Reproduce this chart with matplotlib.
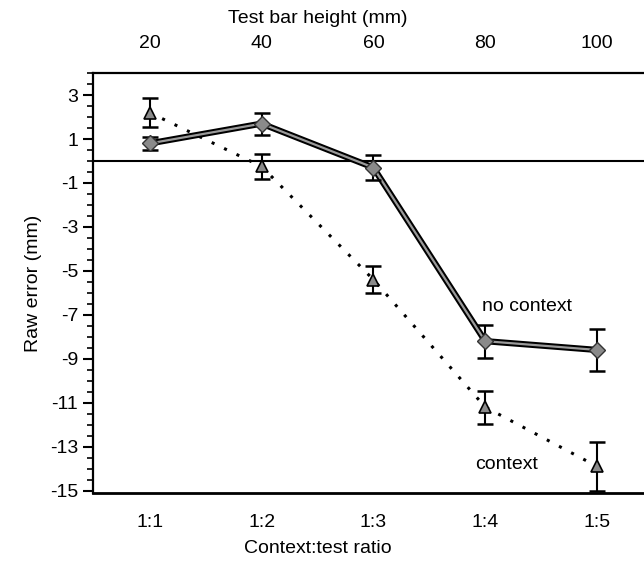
import matplotlib.pyplot as plt
import numpy as np
from matplotlib.ticker import MultipleLocator

plt.rcParams['font.family'] = ['Liberation Sans', 'DejaVu Sans']
plt.rcParams['axes.unicode_minus'] = False

# data
ratios = ['1:1', '1:2', '1:3', '1:4', '1:5']
bar_heights = ['20', '40', '60', '80', '100']
no_context = [0.8, 1.7, -0.3, -8.2, -8.6]
no_context_err = [0.3, 0.5, 0.55, 0.75, 0.95]
context = [2.2, -0.25, -5.4, -11.2, -13.9]
context_err = [0.65, 0.55, 0.6, 0.75, 1.1]

x = np.arange(1, len(ratios) + 1)
FS = 14

fig = plt.figure(figsize=(6.44, 5.71), dpi=100)
ax = fig.add_axes([0.144, 0.137, 0.856, 0.735])

# zero line
ax.axhline(0, color='black', lw=1.5, zorder=1)

# context: dotted line with triangles
ax.errorbar(x, context, yerr=context_err, fmt='none', ecolor='black',
            elinewidth=1.5, capsize=6, capthick=1.8, zorder=3)
ax.plot(x, context, linestyle=(0, (1, 3.5)), color='black', lw=2.2, zorder=2)
ax.plot(x, context, linestyle='none', marker='^', markersize=9,
        markerfacecolor='#8a8a8a', markeredgecolor='black', markeredgewidth=1.2, zorder=4)

# no context: thick double line with diamonds
ax.errorbar(x, no_context, yerr=no_context_err, fmt='none', ecolor='black',
            elinewidth=1.5, capsize=6, capthick=1.8, zorder=3)
ax.plot(x, no_context, color='black', lw=4.5, zorder=2, solid_capstyle='round')
ax.plot(x, no_context, color='#9a9a9a', lw=1.6, zorder=2)
ax.plot(x, no_context, linestyle='none', marker='D', markersize=8,
        markerfacecolor='#8a8a8a', markeredgecolor='#333333', markeredgewidth=1.0, zorder=4)

ax.text(3.97, -6.6, 'no context', fontsize=FS, va='center', ha='left')
ax.text(3.91, -13.8, 'context', fontsize=FS, va='center', ha='left')

ax.set_xlim(0.49, 5.42)
ax.set_ylim(-15.1, 4.0)

ax.set_yticks(np.arange(3, -16, -2))
ax.yaxis.set_minor_locator(MultipleLocator(0.5))
ax.tick_params(axis='y', which='major', length=7, width=1.5, labelsize=FS, direction='out')
ax.tick_params(axis='y', which='minor', length=4, width=1.2, direction='out')

ax.set_xticks(x)
ax.set_xticklabels(ratios)
ax.tick_params(axis='x', length=0, labelsize=FS, pad=15)
ax.set_ylabel('Raw error (mm)', fontsize=FS, labelpad=6)

top = ax.secondary_xaxis('top')
top.set_xticks(x)
top.set_xticklabels(bar_heights)
top.tick_params(length=0, labelsize=FS, pad=15)
top.spines['top'].set_visible(False)

# axis titles sit left of the axes centre in the original
fig.text(0.494, 0.968, 'Test bar height (mm)', fontsize=FS, ha='center', va='center')
fig.text(0.494, 0.040, 'Context:test ratio', fontsize=FS, ha='center', va='center')

ax.spines['right'].set_visible(False)
ax.spines['top'].set_linewidth(1.6)
ax.spines['left'].set_linewidth(1.6)
ax.spines['bottom'].set_linewidth(2.0)

fig.savefig('out.png', dpi=100)
